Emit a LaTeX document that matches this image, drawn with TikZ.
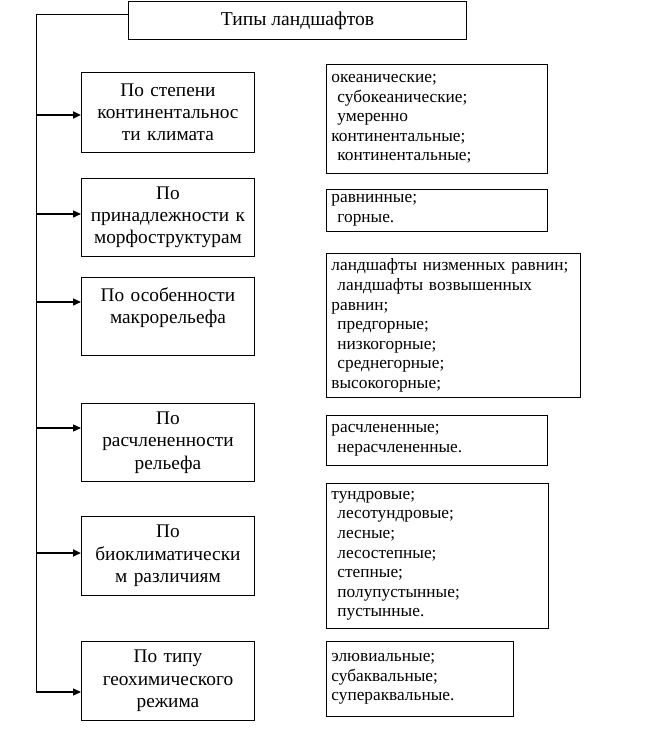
\documentclass[tikz,border=0pt]{standalone}
\usepackage{fontspec}
\setmainfont{Liberation Serif}
\usetikzlibrary{arrows.meta}
\newcommand\ind{\hspace*{6pt}}
\begin{document}
\begin{tikzpicture}[x=1pt,y=-1pt,
 box/.style={draw,line width=0.9pt,inner ysep=0pt,anchor=north west},
 lbox/.style={box,inner xsep=1pt,text width=171pt,font=\fontsize{19.3}{22.3}\selectfont,align=center},
 rbox/.style={box,inner xsep=5pt,font=\fontsize{17.3}{19.6}\selectfont,align=left},
 feed/.style={line width=1.3pt,-{Triangle[length=8pt,width=7pt]}},
 heavyfeed/.style={feed,line width=2.8pt}]
\useasboundingbox (0,0) rectangle (655,730);
\node[box,minimum width=338pt,minimum height=38pt,font=\fontsize{19.6}{22}\selectfont] (title) at (128,1) {Типы ландшафтов};
% left boxes
\node[lbox,minimum height=80pt] (b1) at (81,72) {По степени\\континентальнос\\ти климата};
\node[lbox,minimum height=78pt] (b2) at (81,178) {По\\принадлежности к\\морфоструктурам};
\node[lbox,minimum height=78pt] (b3) at (81,277) {По особенности\\макрорельефа\\\mbox{}};
\node[lbox,minimum height=78pt] (b4) at (81,403) {По\\расчлененности\\рельефа};
\node[lbox,minimum height=79pt] (b5) at (81,516) {По\\биоклиматически\\м различиям};
\node[lbox,minimum height=79pt] (b6) at (81,641) {По типу\\геохимического\\режима};
% right boxes
\node[rbox,text width=211pt,minimum height=109pt] (r1) at (326,64) {океанические;\\\ind субокеанические;\\\ind умеренно\\континентальные;\\\ind континентальные;};
\node[rbox,text width=211pt,minimum height=42pt] (r2) at (326,189) {равнинные;\\\ind горные.};
\node[rbox,text width=244pt,minimum height=144pt] (r3) at (326,253) {ландшафты низменных равнин;\\\ind ландшафты возвышенных\\равнин;\\\ind предгорные;\\\ind низкогорные;\\\ind среднегорные;\\высокогорные;};
\node[rbox,text width=211pt,minimum height=50pt] (r4) at (326,415) {расчлененные;\\\ind нерасчлененные.};
\node[rbox,text width=212pt,minimum height=145pt] (r5) at (326,483) {тундровые;\\\ind лесотундровые;\\\ind лесные;\\\ind лесостепные;\\\ind степные;\\\ind полупустынные;\\\ind пустынные.};
\node[rbox,text width=177pt,minimum height=75pt] (r6) at (326,641) {элювиальные;\\субаквальные;\\супераквальные.};
% spine
\coordinate (top) at (36,14);
\coordinate (s1) at (36,115);
\coordinate (s2) at (36,214);
\coordinate (s3) at (36,302);
\coordinate (s4) at (36,428);
\coordinate (s5) at (36,553);
\coordinate (s6) at (36,692);
\draw[line width=0.9pt] (top -| title.west) -- (top) -- (s6);
\draw[heavyfeed] (s1) -- (s1 -| b1.west);
\draw[feed] (s2) -- (s2 -| b2.west);
\draw[feed] (s3) -- (s3 -| b3.west);
\draw[feed] (s4) -- (s4 -| b4.west);
\draw[heavyfeed] (s5) -- (s5 -| b5.west);
\draw[feed] (s6) -- (s6 -| b6.west);
\end{tikzpicture}
\end{document}
